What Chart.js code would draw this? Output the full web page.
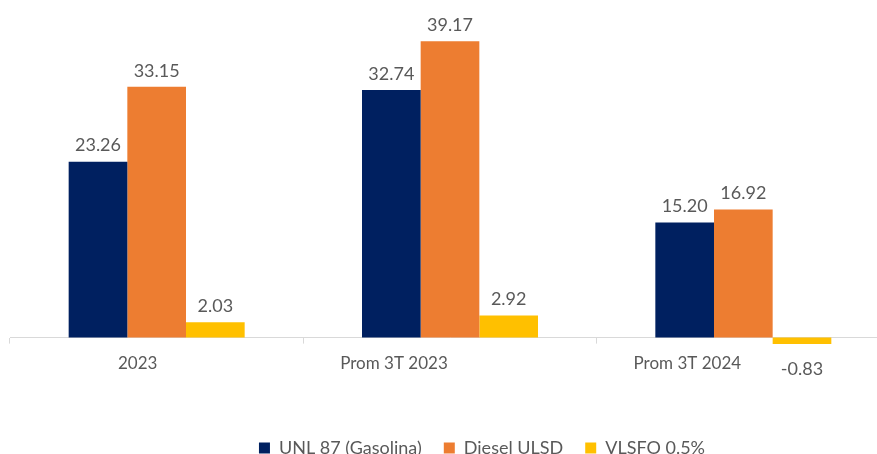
<!DOCTYPE html>
<html>
<head>
<meta charset="utf-8">
<script src="https://cdn.jsdelivr.net/npm/chart.js@4.4.1/dist/chart.umd.min.js"></script>
<style>
  html, body { margin: 0; padding: 0; background: #fff; overflow: hidden; }
  #wrap { width: 900px; height: 454px; }
</style>
</head>
<body>
<div id="wrap"><canvas id="myChart"></canvas></div>
<script>
const categories = ['2023', 'Prom 3T 2023', 'Prom 3T 2024'];
const gasolina = [23.26, 32.74, 15.20];
const diesel = [33.15, 39.17, 16.92];
const vlsfo = [2.03, 2.92, -0.83];

const labelGray = '#595959';
// the category labels of the original sit left of their bar groups
const tickNudge = [-19, -56, -56];

// writes the value over each bar (under it when negative)
const barValues = {
    id: 'barValues',
    afterDatasetsDraw(chart) {
        const ctx = chart.ctx;
        ctx.save();
        ctx.font = '18px Lato';
        ctx.fillStyle = labelGray;
        ctx.textAlign = 'center';
        chart.data.datasets.forEach((ds, i) => {
            chart.getDatasetMeta(i).data.forEach((bar, j) => {
                const v = ds.data[j];
                if (v >= 0) {
                    ctx.textBaseline = 'bottom';
                    ctx.fillText(v.toFixed(2), bar.x, bar.y - 7);
                } else {
                    ctx.textBaseline = 'top';
                    ctx.fillText(v.toFixed(2), bar.x, bar.y + 16);
                }
            });
        });
        ctx.restore();
    }
};

// moves the legend right and down, as in the original
const legendShift = {
    id: 'legendShift',
    afterLayout(chart) {
        chart.legend.left += 32;
        chart.legend.right += 32;
        chart.legend.top += 33;
        chart.legend.bottom += 33;
    },
    beforeDraw(chart) {
        const items = chart.scales.x.getLabelItems();
        if (items._nudged) return;
        items.forEach((it, i) => { it.options.translation[0] += tickNudge[i] || 0; });
        items._nudged = true;
    }
};

const data = {
    labels: categories,
    datasets: [
        { label: 'UNL 87 (Gasolina)', data: gasolina, backgroundColor: '#002060' },
        { label: 'Diesel ULSD', data: diesel, backgroundColor: '#ED7D31' },
        { label: 'VLSFO 0.5%', data: vlsfo, backgroundColor: '#FFC000' }
    ]
};

const config = {
    type: 'bar',
    data: data,
    options: {
        responsive: true,
        maintainAspectRatio: false,
        animation: false,
        categoryPercentage: 0.6,
        barPercentage: 1,
        clip: false,
        layout: { padding: { left: 10, right: 10, top: 35, bottom: 20 } },
        scales: {
            x: {
                grid: { drawOnChartArea: false, tickLength: 6, color: '#d9d9d9', offset: true },
                border: { color: '#d9d9d9' },
                ticks: { color: labelGray, font: { family: 'Lato', size: 17 }, padding: 10 }
            },
            y: {
                display: false,
                min: 0,
                max: 40
            }
        },
        plugins: {
            tooltip: { enabled: false },
            legend: {
                position: 'bottom',
                labels: {
                    color: labelGray,
                    font: { family: 'Lato', size: 18 },
                    boxWidth: 11,
                    boxHeight: 11,
                    padding: 22
                }
            }
        }
    },
    plugins: [barValues, legendShift]
};

var myChart = new Chart(document.getElementById('myChart'), config);
</script>
</body>
</html>
